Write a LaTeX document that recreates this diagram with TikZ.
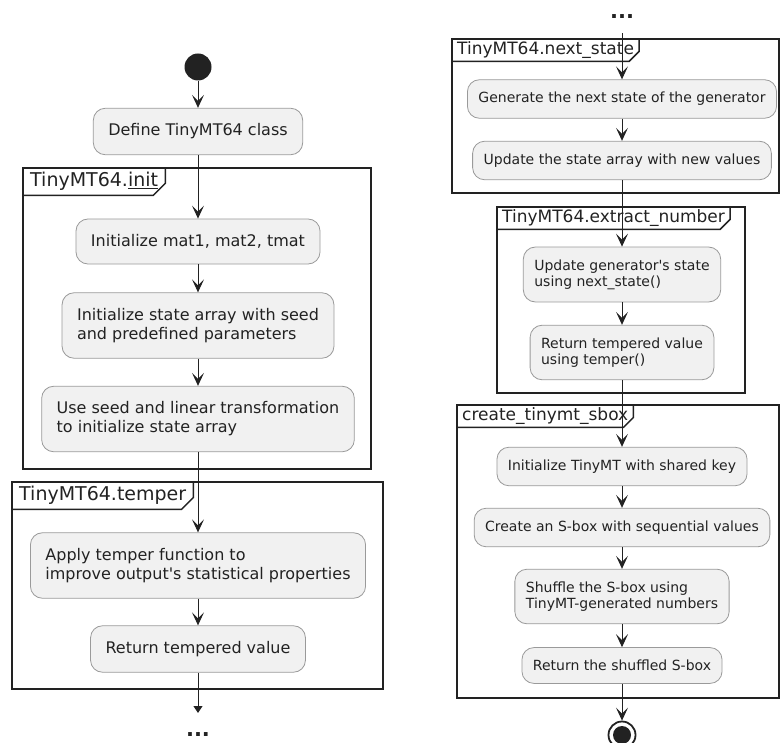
\documentclass[tikz,border=0pt]{standalone}
\usepackage{fontspec}
\setmainfont{DejaVu Sans}
\usetikzlibrary{arrows.meta}
\definecolor{actfill}{HTML}{F1F1F1}
\definecolor{actline}{HTML}{9A9A9A}
\definecolor{ink}{HTML}{222222}

\begin{document}
\begin{tikzpicture}[
    x=1pt, y=-1pt,
    action/.style={rectangle, rounded corners=12pt, draw=actline, fill=actfill, text=ink, align=left, line width=0.8pt},
    bigact/.style={action, font=\fontsize{16}{19}\selectfont, inner xsep=15pt, inner ysep=15.5pt},
    smallact/.style={action, font=\fontsize{14}{16}\selectfont, inner xsep=11pt, inner ysep=12.5pt},
    frame/.style={draw=ink, line width=1.5pt},
    bigtab/.style={anchor=north west, inner xsep=7pt, inner ysep=0pt, minimum height=27pt, font=\fontsize{19}{22}\selectfont, text=ink},
    smalltab/.style={anchor=north west, inner xsep=5pt, inner ysep=0pt, minimum height=22pt, font=\fontsize{17}{20}\selectfont, text=ink},
    flow/.style={draw=ink, line width=1pt, -{Stealth[length=13pt, width=12pt, inset=6pt]}},
    more/.style={font=\fontsize{21}{24}\selectfont\bfseries, text=ink, inner sep=0pt}
]
    \useasboundingbox (0,0) rectangle (781,743);

    % left column
    \draw[frame] (23,168) rectangle (371,469);
    \node[bigtab] (initTab) at (23,168) {TinyMT64.\underline{init}};
    \draw[frame] (initTab.north east) -- ([yshift=12pt]initTab.south east) -- ([xshift=-12pt]initTab.south east) -- (initTab.south west);

    \draw[frame] (12,482) rectangle (383,689);
    \node[bigtab] (temperTab) at (12,482) {TinyMT64.temper};
    \draw[frame] (temperTab.north east) -- ([yshift=12pt]temperTab.south east) -- ([xshift=-12pt]temperTab.south east) -- (temperTab.south west);

    \node[circle, fill=ink, minimum size=27pt, inner sep=0pt] (start) at (198,67) {};
    \node[bigact] (define) at (198,131.5) {Define TinyMT64 class};
    \node[bigact] (init1) at (198,241.5) {Initialize mat1, mat2, tmat};
    \node[bigact] (init2) at (198,325.5) {Initialize state array with seed\\and predefined parameters};
    \node[bigact] (init3) at (198,419) {Use seed and linear transformation\\to initialize state array};
    \node[bigact] (apply) at (198,565.5) {Apply temper function to\\improve output\textquotesingle s statistical properties};
    \node[bigact] (retval) at (198,649) {Return tempered value};
    \coordinate (leftEnd) at (198,713);
    \node[more] (dotsL) at (198,735) {...};

    \draw[flow] (start) -- (define);
    \draw[flow] (define) -- (init1);
    \draw[flow] (init1) -- (init2);
    \draw[flow] (init2) -- (init3);
    \draw[flow] (init3) -- (apply);
    \draw[flow] (apply) -- (retval);
    \draw[draw=ink, line width=1pt, -{Triangle[length=7pt, width=9pt]}] (retval) -- (leftEnd);

    % right column
    \draw[frame] (452,39) rectangle (779,193);
    \node[smalltab] (nextTab) at (452,39) {TinyMT64.next\_state};
    \draw[frame] (nextTab.north east) -- ([yshift=10pt]nextTab.south east) -- ([xshift=-10pt]nextTab.south east) -- (nextTab.south west);

    \draw[frame] (497,207) rectangle (745,393);
    \node[smalltab] (extractTab) at (497,207) {TinyMT64.extract\_number};
    \draw[frame] (extractTab.north east) -- ([yshift=10pt]extractTab.south east) -- ([xshift=-10pt]extractTab.south east) -- (extractTab.south west);

    \draw[frame] (457,405) rectangle (779,698);
    \node[smalltab] (sboxTab) at (457,405) {create\_tinymt\_sbox};
    \draw[frame] (sboxTab.north east) -- ([yshift=10pt]sboxTab.south east) -- ([xshift=-10pt]sboxTab.south east) -- (sboxTab.south west);

    \node[more] (dotsR) at (622,17) {...};
    \node[smallact] (gen) at (622,99) {Generate the next state of the generator};
    \node[smallact] (upd) at (622,160.5) {Update the state array with new values};
    \node[smallact] (updgen) at (622,274.5) {Update generator\textquotesingle s state\\using next\_state()};
    \node[smallact] (rettemp) at (622,352.5) {Return tempered value\\using temper()};
    \node[smallact] (initkey) at (622,466.5) {Initialize TinyMT with shared key};
    \node[smallact] (create) at (622,527.5) {Create an S-box with sequential values};
    \node[smallact] (shuffle) at (622,596.5) {Shuffle the S-box using\\TinyMT-generated numbers};
    \node[smallact] (retsbox) at (622,665.5) {Return the shuffled S-box};
    \node[circle, draw=ink, line width=1.8pt, minimum size=27pt, inner sep=0pt] (stop) at (622,735) {};
    \node[circle, fill=ink, minimum size=18pt, inner sep=0pt] (stopdot) at (stop) {};

    \draw[flow, shorten <=14pt] (dotsR) -- (gen);
    \draw[flow] (gen) -- (upd);
    \draw[flow] (upd) -- (updgen);
    \draw[flow] (updgen) -- (rettemp);
    \draw[flow] (rettemp) -- (initkey);
    \draw[flow] (initkey) -- (create);
    \draw[flow] (create) -- (shuffle);
    \draw[flow] (shuffle) -- (retsbox);
    \draw[flow] (retsbox) -- (stop);
\end{tikzpicture}
\end{document}
